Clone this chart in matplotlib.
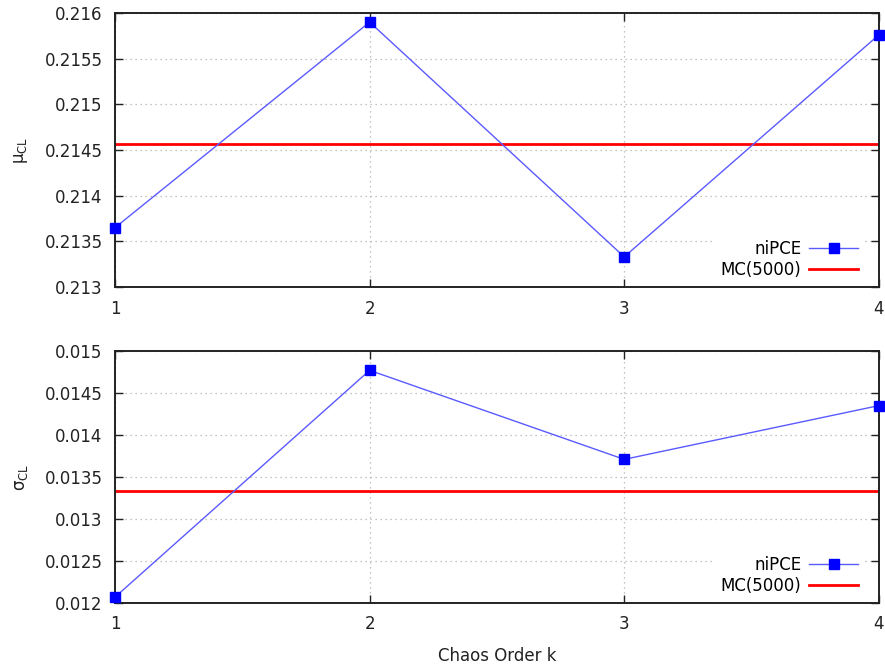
import matplotlib

matplotlib.use("Agg")
import matplotlib.pyplot as plt

# chaos order k and the two statistics of CL
orders = [1, 2, 3, 4]
mu_pce = [0.21365, 0.21590, 0.21333, 0.21576]
sigma_pce = [0.01207, 0.01477, 0.01371, 0.01435]
mu_mc = 0.21457
sigma_mc = 0.013336

mu_ticks = [0.213, 0.2135, 0.214, 0.2145, 0.215, 0.2155, 0.216]
mu_ticklabels = ["0.213", "0.2135", "0.214", "0.2145", "0.215", "0.2155", "0.216"]
sigma_ticks = [0.012, 0.0125, 0.013, 0.0135, 0.014, 0.0145, 0.015]
sigma_ticklabels = ["0.012", "0.0125", "0.013", "0.0135", "0.014", "0.0145", "0.015"]

plt.rcParams["font.family"] = ["DejaVu Sans"]
plt.rcParams["mathtext.default"] = "regular"

W, H = 885, 669
fig = plt.figure(figsize=(W / 100, H / 100), dpi=100)
ax1 = fig.add_axes([0.130, 0.571, 0.863, 0.4096])
ax2 = fig.add_axes([0.130, 0.0987, 0.863, 0.3766])

panels = [
    (ax1, mu_pce, mu_mc, mu_ticks, mu_ticklabels, "μ$_{CL}$"),
    (ax2, sigma_pce, sigma_mc, sigma_ticks, sigma_ticklabels, "σ$_{CL}$"),
]

for ax, pce, mc, ticks, ticklabels, ylab in panels:
    ax.plot(orders, pce, color="#5a5aff", lw=1.0,
            marker="s", ms=7, mfc="#0000ff", mec="#0000ff", label="niPCE",
            clip_on=False, zorder=3)
    ax.axhline(mc, color="#ff0000", lw=2.0, label="MC(5000)", zorder=2)
    ax.set_xlim(1, 4)
    ax.set_ylim(ticks[0], ticks[-1])
    ax.set_xticks(orders)
    ax.set_xticklabels([str(k) for k in orders])
    ax.set_yticks(ticks)
    ax.set_yticklabels(ticklabels)
    ax.grid(True, color="#b0b0b0", ls=(0, (1, 3)), lw=0.9, zorder=0)
    ax.tick_params(direction="in", top=True, right=True, length=6,
                   width=1.0, labelsize=12, pad=9, colors="#222222")
    for s in ax.spines.values():
        s.set_linewidth(1.4)
        s.set_color("#222222")
    ax.set_ylabel(ylab, fontsize=12, color="#222222")

    # legend box sits in the lower right corner, inset a few pixels
    pos = ax.get_position()
    ax_w, ax_h = pos.width * W, pos.height * H
    leg = ax.legend(loc="lower right", bbox_to_anchor=(1 - 16 / ax_w, 3 / ax_h),
                    markerfirst=False, frameon=True,
                    framealpha=1.0, edgecolor="none", fontsize=12,
                    handlelength=2.9, handletextpad=0.5, borderpad=0.3,
                    borderaxespad=0.0, labelspacing=0.2, fancybox=False)
    leg.set_zorder(2.4)

ax1.yaxis.set_label_coords(-0.112, 0.5)
ax2.yaxis.set_label_coords(-0.112, 0.5)
ax2.set_xlabel("Chaos Order k", fontsize=12, labelpad=10, color="#222222")

fig.savefig("out.png", dpi=100)
